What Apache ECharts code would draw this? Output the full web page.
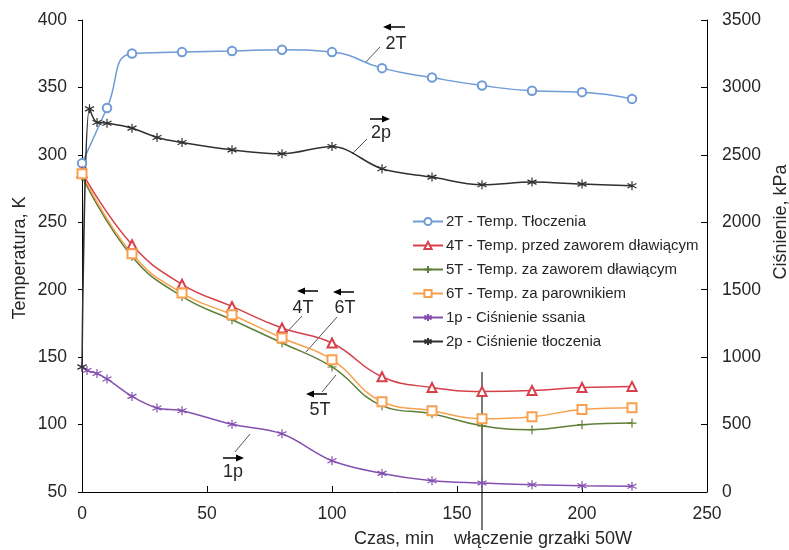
<!DOCTYPE html>
<html>
<head>
<meta charset="utf-8">
<script src="https://cdn.jsdelivr.net/npm/echarts@6/dist/echarts.min.js"></script>
<style>
  html, body { margin: 0; padding: 0; background: #fff; }
  #main { width: 789px; height: 550px; }
</style>
</head>
<body>
<div id="main"></div>
<script>
// czas pomiaru, min
var t2T = [0, 10, 20, 40, 60, 80, 100, 120, 140, 160, 180, 200, 220];
var tT = [0, 20, 40, 60, 80, 100, 120, 140, 160, 180, 200, 220];
var t1p = [0, 2, 6, 10, 20, 30, 40, 60, 80, 100, 120, 140, 160, 180, 200, 220];
var t2p = [0, 3, 6, 10, 20, 30, 40, 60, 80, 100, 120, 140, 160, 180, 200, 220];

// temperatury, K
var v2T = [293.7, 334.7, 375.1, 376.2, 377, 377.9, 376.2, 364.3, 357.3, 351.4, 347.5, 346.5, 341.5];
var v4T = [287, 233.3, 204, 187.6, 171.6, 160.5, 135.5, 127.5, 124.6, 125.3, 127.5, 128.3];
var v5T = [284, 224.6, 195, 177.7, 160.5, 142.7, 114, 108, 99.1, 96.2, 99.9, 101.1];
var v6T = [286, 226.6, 197.5, 181.4, 164.2, 148.1, 117, 110.3, 104.3, 105.8, 111.2, 112.5];

// cisnienia, kPa
var v1p = [927, 901, 879, 838, 709, 623, 603, 502, 432, 232, 138, 84, 67, 54, 47, 42];
var v2p = [927, 2841, 2740, 2735, 2698, 2629, 2592, 2537, 2508, 2562, 2397, 2335, 2278, 2298, 2283, 2271];

var names = [
  '2T - Temp. Tłoczenia',
  '4T - Temp. przed zaworem dławiącym',
  '5T - Temp. za zaworem dławiącym',
  '6T - Temp. za parownikiem',
  '1p - Ciśnienie ssania',
  '2p - Ciśnienie tłoczenia'
];

var FONT = '"Liberation Sans", Arial, sans-serif';
var plusPath = 'path://M5,0L5,10M0,5L10,5';
var starPath = 'path://M5,0L5,10M0.7,2.5L9.3,7.5M0.7,7.5L9.3,2.5';

function pairs(xs, ys) {
  return xs.map(function (x, i) { return [x, ys[i]]; });
}

function mkSeries(name, xs, ys, color, symbol, axis, smooth) {
  return {
    name: name,
    type: 'line',
    smooth: smooth,
    yAxisIndex: axis,
    data: pairs(xs, ys),
    symbol: symbol,
    symbolSize: symbol === 'emptyCircle' ? 8.5 : 9,
    showAllSymbol: true,
    color: color,
    lineStyle: { color: color, width: 1.5 },
    itemStyle: { color: color, borderColor: color, borderWidth: 1.2 },
    emphasis: { disabled: true }
  };
}

var option = {
  animation: false,
  grid: { left: 82, right: 82, top: 20, bottom: 58 },
  legend: {
    orient: 'vertical',
    left: 407,
    top: 209,
    itemWidth: 30,
    itemHeight: 9,
    itemGap: 9,
    textStyle: { fontFamily: FONT, fontSize: 15, color: '#262626', padding: [0, 0, 0, -2] },
    data: names
  },
  xAxis: {
    type: 'value',
    min: 0, max: 250, interval: 50,
    axisLine: { lineStyle: { color: '#000', width: 1 } },
    axisTick: { inside: true, length: 6, lineStyle: { color: '#000' } },
    axisLabel: { margin: 13, fontFamily: FONT, fontSize: 17.5, color: '#262626' },
    splitLine: { show: false }
  },
  yAxis: [
    {
      type: 'value',
      min: 50, max: 400, interval: 50,
      axisLine: { show: true, lineStyle: { color: '#000', width: 1 } },
      axisTick: { show: true, length: 4, lineStyle: { color: '#000' } },
      axisLabel: { margin: 15, fontFamily: FONT, fontSize: 17.5, color: '#262626' },
      splitLine: { show: false }
    },
    {
      type: 'value',
      min: 0, max: 3500, interval: 500,
      position: 'right',
      axisLine: { show: true, lineStyle: { color: '#000', width: 1 } },
      axisTick: { show: true, inside: true, length: 6, lineStyle: { color: '#000' } },
      axisLabel: {
        margin: 15, fontFamily: FONT, fontSize: 17.5, color: '#262626',
        formatter: function (v) { return String(v); }
      },
      splitLine: { show: false }
    }
  ],
  series: [
    mkSeries(names[0], t2T, v2T, '#6F9BD6', 'emptyCircle', 0, 0.5),
    mkSeries(names[1], tT, v4T, '#D6404A', 'emptyTriangle', 0, 0.45),
    mkSeries(names[2], tT, v5T, '#5E7F36', plusPath, 0, 0.45),
    mkSeries(names[3], tT, v6T, '#F9A04F', 'emptyRect', 0, 0.45),
    mkSeries(names[4], t1p, v1p, '#8450B0', starPath, 1, 0.35),
    mkSeries(names[5], t2p, v2p, '#303030', starPath, 1, 0.35)
  ]
};

var chart = echarts.init(document.getElementById('main'), null, { renderer: 'canvas' });
chart.setOption(option);

// adnotacje
function txt(s, x, y, size, rot) {
  return {
    type: 'text', x: x, y: y, rotation: rot || 0, silent: true,
    style: {
      text: s, fill: '#262626', font: (size || 18) + 'px ' + FONT,
      align: 'center', verticalAlign: 'middle',
      textAlign: 'center', textVerticalAlign: 'middle'
    }
  };
}
function seg(x1, y1, x2, y2, color, w) {
  return {
    type: 'line', silent: true,
    shape: { x1: x1, y1: y1, x2: x2, y2: y2 },
    style: { stroke: color || '#555', lineWidth: w || 1 }
  };
}
function arrow(xTail, xHead, y) {
  var d = xHead > xTail ? 1 : -1;
  return [
    seg(xTail, y, xHead - d * 6, y, '#000', 1.5),
    {
      type: 'polygon', silent: true,
      shape: { points: [[xHead, y], [xHead - d * 8, y - 3.5], [xHead - d * 8, y + 3.5]] },
      style: { fill: '#000' }
    }
  ];
}

var x160 = chart.convertToPixel({ xAxisIndex: 0 }, 160);
var yTop = chart.convertToPixel({ yAxisIndex: 0 }, 139);

var g = [];
g.push(txt('Temperatura, K', 20, 258, 18, Math.PI / 2));
g.push(txt('Ciśnienie, kPa', 781, 222, 18, Math.PI / 2));
g.push(txt('Czas, min', 394, 539, 18));
g.push(txt('włączenie grzałki 50W', 543, 539, 18));
g.push(seg(x160, yTop, x160, 530, '#222', 1.2));

// 2T
g = g.concat(arrow(405, 383, 27));
g.push(txt('2T', 396, 44));
g.push(seg(365, 63, 380, 47));
// 2p
g = g.concat(arrow(370, 390, 119));
g.push(txt('2p', 381, 133));
g.push(seg(352, 154, 367, 139));
// 4T
g = g.concat(arrow(318, 297, 291));
g.push(txt('4T', 303, 308));
g.push(seg(287, 332, 302, 316));
// 6T
g = g.concat(arrow(354, 333, 292));
g.push(txt('6T', 345, 308));
g.push(seg(306, 352, 337, 317));
// 5T
g = g.concat(arrow(327, 306, 394));
g.push(txt('5T', 320, 410));
g.push(seg(336, 375, 322, 392));
// 1p
g = g.concat(arrow(223, 244, 458));
g.push(txt('1p', 233, 472));
g.push(seg(235, 452, 250, 434));

chart.setOption({ graphic: g });
</script>
</body>
</html>
